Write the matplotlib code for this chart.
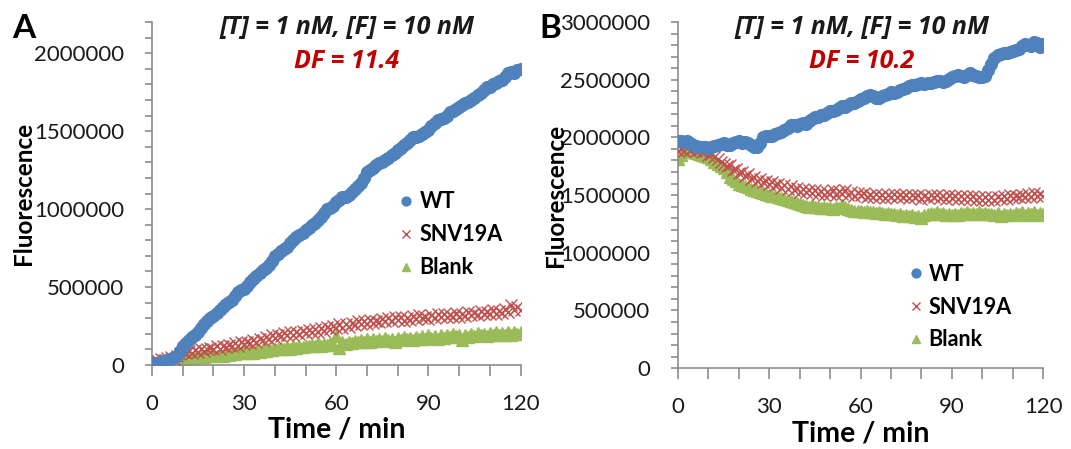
import matplotlib
matplotlib.use("Agg")
import matplotlib.pyplot as plt
import numpy as np
from matplotlib.ticker import MultipleLocator, FuncFormatter

plt.rcParams['font.family'] = ['Lato', 'DejaVu Sans']

# time points (min), one reading per minute
time_min = np.arange(0, 121)

# fluorescence readings, in thousands
a_wt = [5, 10, 15, 20, 25, 30, 40, 50, 60, 90,
        120, 140, 160, 180, 195, 215, 240, 260, 280, 300,
        315, 335, 355, 375, 390, 405, 420, 445, 470, 480,
        490, 510, 530, 550, 570, 590, 610, 625, 640, 665,
        700, 715, 730, 745, 760, 780, 800, 820, 835, 850,
        865, 880, 895, 910, 930, 950, 975, 1000, 1005, 1020,
        1045, 1060, 1075, 1080, 1090, 1110, 1130, 1150, 1170, 1200,
        1235, 1250, 1265, 1280, 1295, 1305, 1315, 1330, 1345, 1360,
        1380, 1395, 1410, 1425, 1445, 1460, 1465, 1470, 1480, 1495,
        1510, 1530, 1555, 1570, 1575, 1585, 1600, 1620, 1630, 1645,
        1655, 1665, 1680, 1690, 1700, 1710, 1730, 1745, 1765, 1780,
        1785, 1800, 1810, 1820, 1830, 1845, 1870, 1880, 1875, 1890,
        1900]
a_snv = [20, 35, 25, 40, 30, 45, 50, 40, 60, 70,
         85, 75, 90, 80, 95, 85, 100, 90, 105, 110,
         100, 120, 105, 125, 115, 130, 120, 140, 125, 145,
         135, 150, 140, 160, 150, 170, 160, 180, 165, 190,
         175, 195, 185, 205, 190, 210, 195, 215, 200, 220,
         205, 225, 210, 230, 215, 235, 220, 245, 230, 250,
         235, 260, 240, 265, 245, 270, 255, 280, 260, 285,
         265, 290, 270, 285, 275, 295, 280, 300, 285, 305,
         290, 310, 285, 300, 290, 315, 295, 320, 300, 310,
         295, 320, 300, 325, 305, 330, 310, 320, 305, 335,
         310, 330, 315, 340, 320, 335, 320, 345, 325, 340,
         330, 350, 330, 345, 335, 360, 340, 385, 350, 370,
         355]
a_blank = [5, 15, 10, 25, 20, 30, 25, 40, 35, 45,
           50, 40, 55, 45, 55, 50, 60, 50, 65, 55,
           65, 60, 70, 60, 75, 65, 80, 70, 85, 75,
           85, 80, 90, 80, 95, 85, 100, 90, 105, 95,
           105, 100, 110, 100, 115, 105, 120, 110, 125, 115,
           125, 120, 130, 120, 140, 125, 135, 130, 140, 130,
           185, 110, 145, 135, 150, 140, 155, 145, 160, 150,
           165, 150, 165, 155, 170, 155, 175, 160, 170, 150,
           175, 160, 180, 165, 175, 160, 180, 165, 185, 170,
           190, 175, 185, 170, 195, 175, 190, 180, 200, 185,
           195, 160, 190, 180, 200, 185, 205, 190, 200, 185,
           205, 190, 210, 195, 205, 190, 210, 195, 215, 200,
           210]

b_wt = [1965, 1965, 1960, 1965, 1955, 1935, 1925, 1920, 1915, 1920,
        1910, 1915, 1925, 1930, 1945, 1950, 1930, 1935, 1950, 1960,
        1965, 1955, 1960, 1950, 1935, 1920, 1915, 1950, 2000, 2010,
        2015, 2010, 2030, 2040, 2050, 2065, 2080, 2105, 2110, 2100,
        2115, 2125, 2120, 2140, 2160, 2175, 2180, 2190, 2195, 2215,
        2230, 2225, 2240, 2255, 2270, 2265, 2280, 2295, 2300, 2315,
        2330, 2345, 2355, 2370, 2360, 2345, 2340, 2355, 2370, 2380,
        2390, 2385, 2395, 2410, 2420, 2430, 2445, 2455, 2450, 2460,
        2470, 2465, 2475, 2470, 2480, 2490, 2485, 2480, 2490, 2505,
        2520, 2530, 2540, 2530, 2525, 2540, 2555, 2545, 2535, 2525,
        2520, 2535, 2580, 2640, 2690, 2710, 2720, 2730, 2735, 2740,
        2750, 2760, 2770, 2790, 2810, 2800, 2790, 2830, 2820, 2780,
        2810]
b_snv = [1885, 1900, 1880, 1910, 1895, 1905, 1885, 1895, 1870, 1880,
         1850, 1860, 1830, 1810, 1790, 1770, 1750, 1760, 1720, 1730,
         1690, 1700, 1665, 1680, 1640, 1655, 1620, 1640, 1610, 1625,
         1595, 1610, 1585, 1600, 1565, 1590, 1555, 1575, 1545, 1565,
         1530, 1555, 1525, 1545, 1515, 1540, 1510, 1535, 1505, 1530,
         1510, 1540, 1505, 1535, 1510, 1540, 1500, 1525, 1495, 1520,
         1500, 1515, 1480, 1505, 1485, 1510, 1480, 1505, 1475, 1500,
         1480, 1510, 1485, 1505, 1480, 1500, 1475, 1505, 1480, 1500,
         1470, 1495, 1475, 1505, 1480, 1500, 1475, 1495, 1470, 1500,
         1475, 1495, 1465, 1490, 1470, 1495, 1465, 1490, 1460, 1485,
         1460, 1480, 1455, 1480, 1460, 1485, 1465, 1490, 1470, 1500,
         1475, 1495, 1480, 1505, 1480, 1510, 1485, 1515, 1490, 1510,
         1495]
b_blank = [1815, 1850, 1875, 1890, 1880, 1870, 1865, 1860, 1850, 1840,
           1830, 1815, 1790, 1770, 1750, 1735, 1700, 1660, 1640, 1620,
           1600, 1590, 1580, 1570, 1555, 1545, 1535, 1525, 1520, 1510,
           1505, 1495, 1490, 1480, 1475, 1470, 1455, 1445, 1440, 1430,
           1420, 1415, 1405, 1400, 1410, 1395, 1400, 1390, 1395, 1385,
           1390, 1380, 1395, 1385, 1410, 1400, 1380, 1370, 1365, 1360,
           1365, 1355, 1360, 1350, 1355, 1345, 1350, 1345, 1340, 1345,
           1335, 1340, 1325, 1335, 1320, 1330, 1315, 1325, 1310, 1320,
           1305, 1325, 1335, 1345, 1340, 1350, 1335, 1345, 1330, 1340,
           1325, 1340, 1330, 1345, 1335, 1350, 1340, 1345, 1335, 1350,
           1340, 1345, 1335, 1340, 1330, 1345, 1320, 1335, 1325, 1340,
           1330, 1345, 1335, 1350, 1330, 1345, 1335, 1350, 1330, 1345,
           1335]

series_names = ['WT', 'SNV19A', 'Blank']
conditions = '[T] = 1 nM, [F] = 10 nM'
df_values = ['DF = 11.4', 'DF = 10.2']
panel_letters = ['A', 'B']
y_tops = [2200000, 3000000]

c_wt = '#4F81BD'
c_snv = '#C0504D'
c_blank = '#9BBB59'
spine_col = '#8C8C8C'
title_font = ['Open Sans', 'DejaVu Sans']

fig = plt.figure(figsize=(10.71, 4.49), dpi=100)
ax_a = fig.add_axes([0.142, 0.187, 0.344, 0.764])
ax_b = fig.add_axes([0.633, 0.180, 0.341, 0.771])

panels = [
    (ax_a, a_wt, a_snv, a_blank),
    (ax_b, b_wt, b_snv, b_blank),
]
title_x = [347 / 1071, 862 / 1071]
legend_pos = [(0.635, 0.55), (0.595, 0.345)]
ylabel_x = [-0.318, -0.305]

for i, (ax, wt, snv, blank) in enumerate(panels):
    ax.plot(time_min, np.array(blank) * 1000, ls='none', marker='^', ms=8,
            color=c_blank, mec=c_blank, label=series_names[2], zorder=2)
    ax.plot(time_min, np.array(snv) * 1000, ls='none', marker='x', ms=8,
            mew=1.0, color=c_snv, label=series_names[1], zorder=3)
    ax.plot(time_min, np.array(wt) * 1000, ls='none', marker='o', ms=8.5,
            color=c_wt, mec=c_wt, label=series_names[0], zorder=4)

    ax.set_xlim(0, 120)
    ax.set_ylim(0, y_tops[i])
    ax.xaxis.set_major_locator(MultipleLocator(30))
    ax.xaxis.set_minor_locator(MultipleLocator(10))
    ax.yaxis.set_major_locator(MultipleLocator(500000))
    ax.yaxis.set_minor_locator(MultipleLocator(100000))
    ax.yaxis.set_major_formatter(FuncFormatter(lambda v, p: '%d' % v))

    for s in ['top', 'right']:
        ax.spines[s].set_visible(False)
    for s in ['left', 'bottom']:
        ax.spines[s].set_color(spine_col)
        ax.spines[s].set_linewidth(1.2)
    ax.tick_params(axis='both', which='both', direction='out', color=spine_col,
                   width=1.2, labelsize=16, labelcolor='#1a1a1a')
    ax.tick_params(axis='x', which='both', length=8, pad=13)
    ax.tick_params(axis='y', which='both', length=5, pad=15)

    ax.set_xlabel('Time / min', fontsize=20.5, fontweight='bold', labelpad=2)
    ax.set_ylabel('Fluorescence', fontsize=17.5, fontweight='bold')
    ax.yaxis.set_label_coords(ylabel_x[i], 0.5)

    fig.text(title_x[i], 1 - 27 / 449, conditions, ha='center', va='center',
             fontsize=18, fontweight='bold', style='italic', color='#1a1a1a',
             family=title_font)
    fig.text(title_x[i], 1 - 61 / 449, df_values[i], ha='center', va='center',
             fontsize=18, fontweight='bold', style='italic', color='#C00000',
             family=title_font)

    h, l = ax.get_legend_handles_labels()
    order = [2, 1, 0]
    ax.legend([h[k] for k in order], [l[k] for k in order], loc='upper left',
              bbox_to_anchor=legend_pos[i], frameon=False, markerscale=0.75,
              handlelength=0.5, handletextpad=0.35, labelspacing=0.55,
              borderpad=0.2, prop={'size': 15.5, 'weight': 'bold'})

for letter, lx in zip(panel_letters, [0.011, 0.504]):
    fig.text(lx, 1 - 28 / 449, letter, fontsize=24, fontweight='bold', va='center')

fig.savefig('out.png', dpi=100)
